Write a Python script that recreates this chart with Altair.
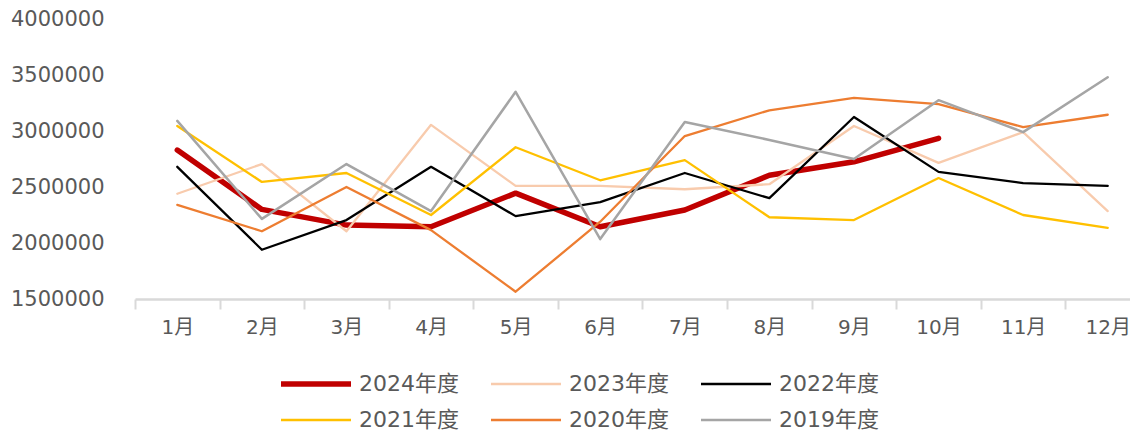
import altair as alt
import pandas as pd

months = ["1月", "2月", "3月", "4月", "5月", "6月", "7月", "8月", "9月", "10月", "11月", "12月"]
years = ["2024年度", "2023年度", "2022年度", "2021年度", "2020年度", "2019年度"]
colors = ["#C00000", "#F8CBAD", "#000000", "#FFC000", "#ED7D31", "#A5A5A5"]
widths = [5.5, 2.3, 2.3, 2.3, 2.3, 2.5]

v2024 = [2830000, 2300000, 2160000, 2145000, 2445000, 2145000, 2295000, 2605000, 2725000, 2935000]
v2023 = [2440000, 2705000, 2105000, 3055000, 2510000, 2510000, 2480000, 2525000, 3045000, 2715000, 2990000, 2285000]
v2022 = [2680000, 1940000, 2205000, 2680000, 2240000, 2365000, 2625000, 2400000, 3125000, 2635000, 2535000, 2510000]
v2021 = [3045000, 2545000, 2625000, 2250000, 2855000, 2560000, 2740000, 2230000, 2205000, 2580000, 2250000, 2135000]
v2020 = [2340000, 2105000, 2500000, 2115000, 1565000, 2190000, 2955000, 3185000, 3295000, 3240000, 3035000, 3145000]
v2019 = [3090000, 2215000, 2705000, 2285000, 3350000, 2035000, 3080000, 2920000, 2750000, 3275000, 2990000, 3480000]

series = [v2024, v2023, v2022, v2021, v2020, v2019]
rows = []
for yr, vals in zip(years, series):
    for m, v in zip(months, vals):
        rows.append({"month": m, "year": yr, "value": v})
df = pd.DataFrame(rows)

FONT = "'DejaVu Sans', 'Noto Sans CJK SC', sans-serif"
GREY = "#595959"

legend = alt.Legend(
    title=None,
    orient="none",
    legendX=135,
    legendY=354,
    columns=3,
    direction="horizontal",
    symbolType="M0,0L35,0",
    symbolSize=16,
    labelOffset=67,
    columnPadding=21,
    rowPadding=14,
    labelFont=FONT,
    labelFontSize=22,
    labelColor=GREY,
    padding=0,
)

chart = alt.Chart(df).mark_line(strokeCap="round", strokeJoin="round").encode(
    x=alt.X(
        "month:O",
        sort=months,
        scale=alt.Scale(type="band", domain=months, paddingInner=0, paddingOuter=0, range=[0, 1015]),
        axis=alt.Axis(
            title=None,
            labelAngle=0,
            tickBand="extent",
            tickSize=10,
            tickWidth=2,
            tickColor="#D9D9D9",
            domainColor="#D9D9D9",
            domainWidth=2.5,
            labelFont=FONT,
            labelFontSize=20,
            labelColor=GREY,
            labelPadding=8,
            grid=False,
        ),
    ),
    y=alt.Y(
        "value:Q",
        scale=alt.Scale(domain=[1500000, 4000000], nice=False, zero=False),
        axis=alt.Axis(
            title=None,
            values=[1500000, 2000000, 2500000, 3000000, 3500000, 4000000],
            format="d",
            grid=False,
            domain=False,
            ticks=False,
            labelFont=FONT,
            labelFontSize=21,
            labelColor=GREY,
            labelPadding=31,
        ),
    ),
    color=alt.Color("year:N", scale=alt.Scale(domain=years, range=colors), legend=legend, sort=years),
    strokeWidth=alt.StrokeWidth("year:N", scale=alt.Scale(type="ordinal", domain=years, range=widths), legend=legend, sort=years),
).properties(
    width=995,
    height=280,
    autosize=alt.AutoSizeParams(type="none"),
    padding={"left": 127, "top": 11, "right": 0, "bottom": 135},
).configure_view(stroke=None)

chart.save("out.html", embed_options={"renderer": "svg", "actions": False})
